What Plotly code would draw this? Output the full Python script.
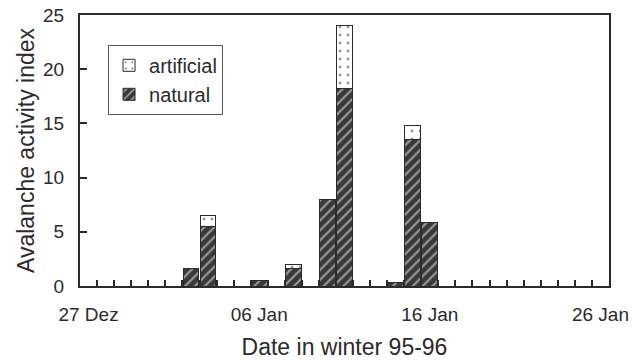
import plotly.graph_objects as go
import pandas as pd

# Daily categories, winter 95-96
dates = pd.date_range("1995-12-27", "1996-01-26", freq="D")
natural = [0, 0, 0, 0, 0, 0, 1.6, 5.5, 0, 0, 0.5, 0, 1.6, 0, 8.0, 18.2,
           0, 0, 0.3, 13.5, 5.9, 0, 0, 0, 0, 0, 0, 0, 0, 0, 0]
artificial = [0, 0, 0, 0, 0, 0, 0, 1.0, 0, 0, 0, 0, 0.4, 0, 0, 5.8,
              0, 0, 0, 1.3, 0, 0, 0, 0, 0, 0, 0, 0, 0, 0, 0]
tick_dates = ["1995-12-27", "1996-01-06", "1996-01-16", "1996-01-26"]
tick_text = ["27 Dez", "06 Jan", "16 Jan", "26 Jan"]

# day boundaries for the small inside ticks
boundaries = [d - pd.Timedelta(hours=12) for d in dates][1:]

FONT = "Liberation Sans, Arial, sans-serif"
INK = "#2b2b2b"

fig = go.Figure()
fig.add_trace(go.Bar(
    x=dates, y=natural, name="natural",
    marker=dict(color="#383838",
                line=dict(color="#2b2b2b", width=1),
                pattern=dict(shape="/", bgcolor="#383838", fgcolor="white",
                             size=7, solidity=0.3)),
))
fig.add_trace(go.Bar(
    x=dates, y=artificial, name="artificial",
    marker=dict(color="white",
                line=dict(color="#2b2b2b", width=1),
                pattern=dict(shape=".", bgcolor="white", fgcolor="#333333",
                             size=8, solidity=0.1)),
))

fig.update_layout(
    width=632, height=360,
    margin=dict(l=80, r=23, t=15, b=74),
    paper_bgcolor="white", plot_bgcolor="white",
    barmode="stack", bargap=0.08,
    font=dict(family=FONT, size=19, color=INK),
    showlegend=True,
    legend=dict(x=0.053, y=0.89, xanchor="left", yanchor="top",
                traceorder="reversed", bordercolor="#555555", borderwidth=1,
                bgcolor="white", font=dict(size=20), itemwidth=30,
                tracegroupgap=2),
)
fig.update_xaxes(
    range=["1995-12-26 12:00", "1996-01-26 12:00"],
    tickmode="array", tickvals=tick_dates, ticktext=tick_text,
    ticks="", showgrid=False, zeroline=False,
    showline=True, linecolor=INK, linewidth=2, mirror=True,
    layer="below traces", automargin=False,
    ticklabelstandoff=10,
    minor=dict(ticks="inside", ticklen=6, tickcolor=INK, tickwidth=1.5,
               tickmode="array", tickvals=boundaries, showgrid=False),
    title=dict(text="Date in winter 95-96", font=dict(size=23), standoff=16),
    tickfont=dict(size=19),
)
fig.update_yaxes(
    range=[0, 25], dtick=5, ticks="inside", ticklen=7, tickwidth=1.5,
    tickcolor=INK, showgrid=False, zeroline=False,
    showline=True, linecolor=INK, linewidth=2, mirror=True,
    automargin=False,
    ticklabelstandoff=10,
    title=dict(text="Avalanche activity index", font=dict(size=23), standoff=2),
    tickfont=dict(size=19),
)

fig.write_html("out.html")
